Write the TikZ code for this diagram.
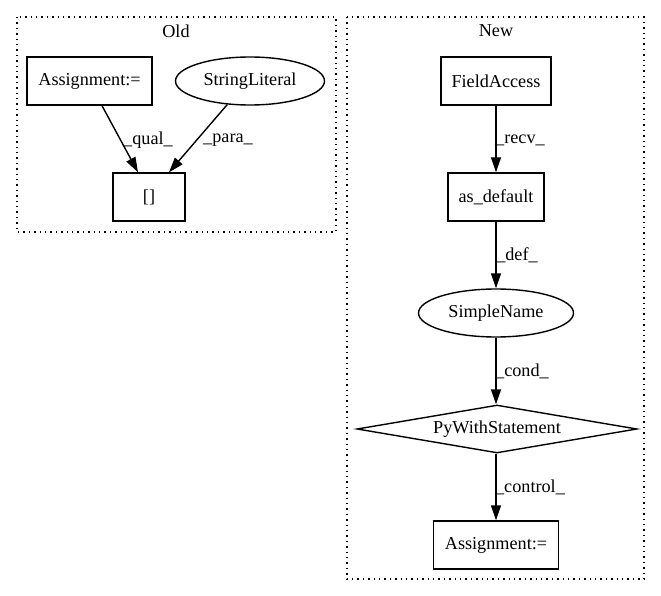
\documentclass[tikz,border=0pt]{standalone}
\usepackage{fontspec}
\setmainfont{Liberation Serif}
\usetikzlibrary{arrows.meta,shapes.geometric}
\begin{document}
\begin{tikzpicture}[x=1pt,y=-1pt,
  every node/.style={font=\fontsize{18.2}{22}\selectfont, inner sep=0pt},
  boxn/.style={draw, line width=1.4pt, rectangle, minimum height=48pt},
  elln/.style={draw, line width=1.4pt, ellipse, minimum height=48pt},
  diam/.style={draw, line width=1.4pt, diamond, aspect=5.83, minimum width=280pt, minimum height=48pt},
  edge/.style={line width=1.4pt, -{Triangle[length=15pt,width=10pt]}},
  clus/.style={line width=1.4pt, dash pattern=on 1.4pt off 4pt}
]
\useasboundingbox (0,0) rectangle (661,596);
% clusters
\draw[clus] (17,17) rectangle (336,232);
\draw[clus] (347,17) rectangle (644,579);
\node (told) at (176,31) {Old};
\node (tnew) at (496,31) {New};
% Old
\node[boxn, minimum width=125pt] (asg) at (89.5,81) {Assignment:=};
\node[elln, minimum width=149pt] (sl) at (250,81) {StringLiteral};
\node[boxn, minimum width=72pt] (br) at (149,197) {[]};
\draw[edge] ([xshift=12.5pt]asg.south) -- ([xshift=-11pt]br.north);
\draw[edge] (sl.226) -- ([xshift=20pt]br.north);
\node (lq) at (148,140) {\_qual\_};
\node (lp) at (228,140) {\_para\_};
% New
\node[boxn, minimum width=110pt] (fa) at (496,81) {FieldAccess};
\node[boxn, minimum width=96pt] (ad) at (496,197) {as\_default};
\node[elln, minimum width=155pt] (sn) at (496,313) {SimpleName};
\node[diam] (pw) at (497,429) {PyWithStatement};
\node[boxn, minimum width=125pt] (asg2) at (496,545) {Assignment:=};
\draw[edge] (fa) -- (ad);
\draw[edge] (ad) -- (sn);
\draw[edge] (sn.south) -- (sn.south |- pw.north);
\draw[edge] (pw.south -| asg2.north) -- (asg2.north);
\node (lr) at (520,140) {\_recv\_};
\node (ld) at (517,255) {\_def\_};
\node (lc) at (522,371) {\_cond\_};
\node (lk) at (530,487) {\_control\_};
\end{tikzpicture}
\end{document}
